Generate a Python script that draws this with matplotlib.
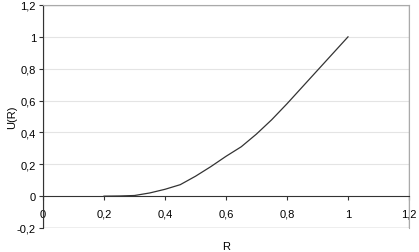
import matplotlib
matplotlib.use("Agg")
import matplotlib.pyplot as plt
from matplotlib.patches import Rectangle

# data
r = [0.2, 0.25, 0.3, 0.35, 0.4, 0.45, 0.5, 0.55, 0.6, 0.65, 0.7, 0.75, 0.8, 0.85, 0.9, 0.95, 1.0]
u = [0.0, 0.001, 0.004, 0.02, 0.043, 0.072, 0.125, 0.185, 0.25, 0.31, 0.39, 0.48, 0.58, 0.685, 0.79, 0.895, 1.0]

xticks = [0, 0.2, 0.4, 0.6, 0.8, 1.0, 1.2]
xlabels = ["0", "0,2", "0,4", "0,6", "0,8", "1", "1,2"]
yticks = [-0.2, 0, 0.2, 0.4, 0.6, 0.8, 1.0, 1.2]
ylabels = ["-0,2", "0", "0,2", "0,4", "0,6", "0,8", "1", "1,2"]

plt.rcParams['font.family'] = ['Liberation Sans', 'DejaVu Sans']
plt.rcParams['font.size'] = 8

fig = plt.figure(figsize=(4.19, 2.53), dpi=100)
ax = fig.add_axes([43/419, 1 - 229/253, 366/419, 223/253])

ax.plot(r, u, color='#333333', lw=0.9)

ax.set_xlim(0, 1.2)
ax.set_ylim(-0.2, 1.2)
ax.set_xticks(xticks)
ax.set_xticklabels(xlabels)
ax.set_yticks(yticks)
ax.set_yticklabels(ylabels)

for y in [0.2, 0.4, 0.6, 0.8, 1.0]:
    ax.axhline(y, color='#e4e4e4', lw=0.8, zorder=0)

ax.spines['bottom'].set_position(('data', 0))
ax.spines['bottom'].set_color('#333333')
ax.spines['left'].set_color('#333333')
ax.spines['top'].set_color('#aaaaaa')
ax.spines['right'].set_color('#aaaaaa')
ax.add_patch(Rectangle((0, 0), 1, 1, transform=ax.transAxes, fill=False,
                       edgecolor='#aaaaaa', lw=1.0, zorder=0.5))

ax.tick_params(axis='both', direction='out', length=3, width=0.8, color='#333333', pad=2)
ax.tick_params(axis='x', pad=6)

ax.set_ylabel("U(R)")
ax.yaxis.set_label_coords(-26/366, 0.5)
fig.text(226/419, 1 - 247/253, "R", ha='center', va='center', fontsize=8)

fig.savefig("out.png", dpi=100)
